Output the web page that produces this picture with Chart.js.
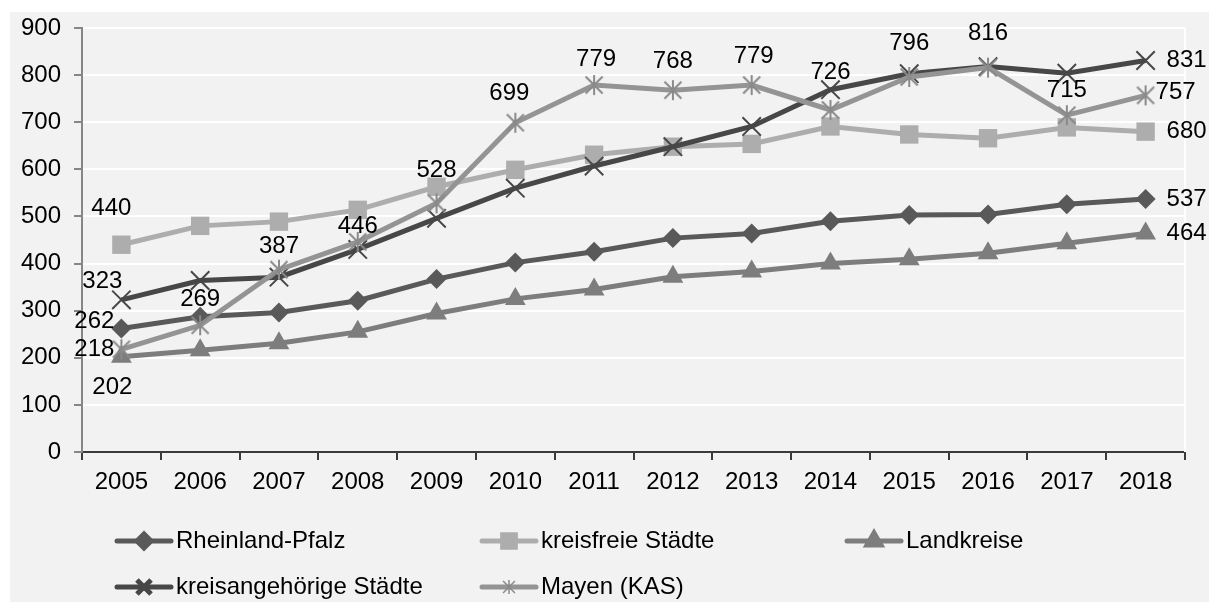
<!DOCTYPE html>
<html>
<head>
<meta charset="utf-8">
<script src="https://cdn.jsdelivr.net/npm/chart.js@4.4.1/dist/chart.umd.min.js"></script>
<style>
html,body{margin:0;padding:0;background:#fff;width:1209px;height:602px;overflow:hidden}
.chart-box{position:absolute;left:10px;top:12px;width:1199px;height:590px;background:#f2f2f2}
#chart{display:block}
</style>
</head>
<body>
<div class="chart-box"><canvas id="chart" width="1199" height="590"></canvas></div>
<script>
// Werte
const years = ['2005','2006','2007','2008','2009','2010','2011','2012','2013','2014','2015','2016','2017','2018'];
const rheinlandPfalz = [262, 287, 296, 321, 367, 402, 425, 454, 464, 490, 503, 504, 526, 537];
const kreisfreieStaedte = [440, 480, 489, 514, 563, 599, 631, 648, 654, 691, 674, 666, 689, 680];
const landkreise = [202, 216, 231, 255, 294, 325, 345, 372, 383, 400, 409, 422, 443, 464];
const kreisangehoerigeStaedte = [323, 364, 371, 430, 496, 560, 607, 648, 691, 769, 803, 818, 804, 831];
const mayenKAS = [218, 269, 387, 446, 528, 699, 779, 768, 779, 726, 796, 816, 715, 757];
const yTicks = { min: 0, max: 900, step: 100 };

const FONT = "'Liberation Sans', Arial, sans-serif";
const FSIZE = 24;

// Excel-Stern: X mit senkrechtem Strich
function starMarker(size, half, color, lw) {
  const c = document.createElement('canvas');
  c.width = c.height = size;
  const g = c.getContext('2d');
  const m = size / 2, d = half * 0.85;
  g.strokeStyle = color;
  g.lineWidth = lw;
  g.beginPath();
  g.moveTo(m - d, m - d); g.lineTo(m + d, m + d);
  g.moveTo(m + d, m - d); g.lineTo(m - d, m + d);
  g.moveTo(m, m - half); g.lineTo(m, m + half);
  g.stroke();
  return c;
}

const series = [
  { label: 'Rheinland-Pfalz', data: rheinlandPfalz, color: '#595959', style: 'rectRot', r: 10, lr: 7, pbw: 0, order: 4 },
  { label: 'kreisfreie Städte', data: kreisfreieStaedte, color: '#adadad', style: 'rect', r: 13, lr: 9, pbw: 0, order: 3 },
  { label: 'Landkreise', data: landkreise, color: '#7d7d7d', style: 'triangle', r: 12, lr: 8, pbw: 0, order: 2 },
  { label: 'kreisangehörige Städte', data: kreisangehoerigeStaedte, color: '#474747', style: 'crossRot', r: 13, lr: 10, pbw: 2, order: 1 },
  { label: 'Mayen (KAS)', data: mayenKAS, color: '#949494', style: null, r: 10, lr: 7, pbw: 2, order: 0 }
];
series[4].style = starMarker(24, 10, '#8a8a8a', 2);
series[4].legendStyle = starMarker(18, 7, '#8a8a8a', 1.5);

// Lage der Datenbeschriftungen relativ zum Punkt [dx, dy]
const labelSpots = [
  { 0: [-27, -7], 13: [41, 0] },
  { 0: [-10, -36], 13: [41, 0] },
  { 0: [-9, 31], 13: [41, 0] },
  { 0: [-19, -18], 13: [41, 0] },
  { 0: [-27, 0], 1: [0, -26], 2: [0, -23], 3: [0, -16], 4: [0, -33], 5: [-6, -29], 6: [2, -26],
    7: [0, -29], 8: [2, -29], 9: [0, -38], 10: [0, -34], 11: [0, -34], 12: [0, -25], 13: [30, -3] }
];

const valueLabels = {
  id: 'valueLabels',
  afterDatasetsDraw(chart) {
    const ctx = chart.ctx;
    ctx.save();
    ctx.font = FSIZE + 'px ' + FONT;
    ctx.fillStyle = '#000';
    ctx.textAlign = 'center';
    ctx.textBaseline = 'middle';
    chart.data.datasets.forEach((ds, di) => {
      const meta = chart.getDatasetMeta(di);
      const spots = labelSpots[di];
      Object.keys(spots).forEach(k => {
        const p = meta.data[k];
        ctx.fillText(String(ds.data[k]), p.x + spots[k][0], p.y + spots[k][1]);
      });
    });
    ctx.restore();
  }
};

const plotFrame = {
  id: 'plotFrame',
  beforeDatasetsDraw(chart) {
    const a = chart.chartArea, ctx = chart.ctx;
    ctx.save();
    ctx.strokeStyle = '#ffffff';
    ctx.lineWidth = 2;
    ctx.beginPath();
    ctx.moveTo(a.right, a.top);
    ctx.lineTo(a.right, a.bottom);
    ctx.stroke();
    ctx.restore();
  }
};

// Legende wie in Excel: Linie mit Marker, drei Spalten
const lineLegend = {
  id: 'lineLegend',
  afterDraw(chart) {
    const ctx = chart.ctx;
    const a = chart.chartArea;
    const x0 = a.left + 35, colW = 365;
    const rows = [a.bottom + 89, a.bottom + 135];
    ctx.save();
    ctx.font = FSIZE + 'px ' + FONT;
    ctx.textBaseline = 'middle';
    ctx.textAlign = 'left';
    series.forEach((s, i) => {
      const x = x0 + (i % 3) * colW;
      const y = rows[Math.floor(i / 3)];
      ctx.strokeStyle = s.color;
      ctx.fillStyle = s.color;
      ctx.lineWidth = 5;
      ctx.lineCap = 'round';
      ctx.beginPath();
      ctx.moveTo(x, y);
      ctx.lineTo(x + 54, y);
      ctx.stroke();
      ctx.lineCap = 'butt';
      Chart.helpers.drawPoint(ctx, {
        pointStyle: s.legendStyle || s.style, radius: s.lr, rotation: 0, borderWidth: s.pbw || 1.5
      }, x + 27, y);
      ctx.fillStyle = '#000';
      ctx.fillText(s.label, x + 59, y);
    });
    ctx.restore();
  }
};

new Chart(document.getElementById('chart'), {
  type: 'line',
  data: {
    labels: years,
    datasets: series.map(s => ({
      label: s.label,
      data: s.data,
      borderColor: s.color,
      backgroundColor: s.color,
      borderWidth: 5,
      tension: 0,
      order: s.order,
      pointStyle: s.style,
      pointRadius: s.r,
      pointHoverRadius: s.r,
      pointBackgroundColor: s.color,
      pointBorderColor: s.color,
      pointBorderWidth: s.pbw
    }))
  },
  options: {
    responsive: false,
    animation: false,
    events: [],
    layout: { padding: { top: 0, right: 24, left: 0, bottom: 0 } },
    plugins: { legend: { display: false }, tooltip: { enabled: false } },
    scales: {
      x: {
        offset: true,
        ticks: { color: '#000', font: { size: FSIZE, family: FONT }, padding: 8, maxRotation: 0, autoSkip: false },
        grid: { offset: true, drawOnChartArea: false, color: '#3a3a3a', lineWidth: 2, tickLength: 8 },
        border: { color: '#3a3a3a', width: 2 },
        afterFit: s => { s.height = 150; s.paddingLeft = 0; s.paddingRight = 0; }
      },
      y: {
        min: yTicks.min,
        max: yTicks.max,
        ticks: { stepSize: yTicks.step, color: '#000', font: { size: FSIZE, family: FONT }, padding: 13 },
        grid: {
          color: c => (c.tick && c.tick.value === 0 ? 'rgba(0,0,0,0)' : '#ffffff'),
          lineWidth: 2, tickColor: '#868686', tickLength: 8
        },
        border: { color: '#868686', width: 2 },
        afterFit: s => { s.width = 72; s.paddingTop = 16; s.paddingBottom = 0; }
      }
    }
  },
  plugins: [plotFrame, valueLabels, lineLegend]
});
</script>
</body>
</html>
